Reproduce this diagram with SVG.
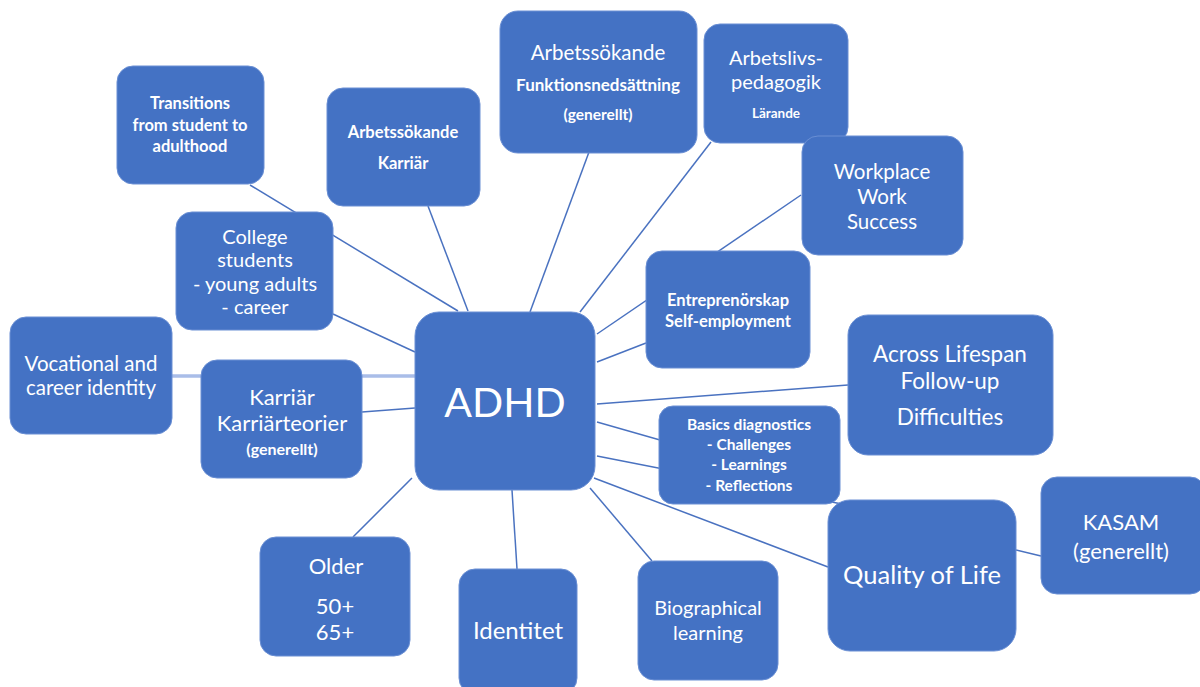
<svg xmlns="http://www.w3.org/2000/svg" width="1200" height="687" viewBox="0 0 1200 687">
  <style>
    .box { fill: #4472C4; stroke: #6a8fd4; stroke-width: 1; }
    .t { fill: #ffffff; font-family: Lato, "Open Sans", "Liberation Sans", sans-serif; text-anchor: middle; dominant-baseline: central; }
    .b { font-weight: bold; }
    .ln { stroke: #4a72c0; stroke-width: 1.5; fill: none; }
    .pale { stroke: #a9bde8; stroke-width: 3.5; fill: none; }
  </style>
  <rect width="1200" height="687" fill="#ffffff"/>

  <!-- connectors -->
  <g id="connectors">
    <line class="pale" x1="172" y1="376" x2="415" y2="376"/>
    <line class="ln" x1="250" y1="185" x2="458" y2="311"/>
    <line class="ln" x1="333" y1="314" x2="415" y2="352"/>
    <line class="ln" x1="428" y1="206" x2="468" y2="311"/>
    <line class="ln" x1="589" y1="152" x2="530" y2="312"/>
    <line class="ln" x1="711" y1="142" x2="580" y2="312"/>
    <line class="ln" x1="801" y1="195" x2="597" y2="334"/>
    <line class="ln" x1="646" y1="343" x2="597" y2="362"/>
    <line class="ln" x1="848" y1="385" x2="597" y2="404"/>
    <line class="ln" x1="597" y1="422" x2="660" y2="440"/>
    <line class="ln" x1="597" y1="456" x2="852" y2="506"/>
    <line class="ln" x1="594" y1="478" x2="828" y2="567"/>
    <line class="ln" x1="1016" y1="550" x2="1041" y2="556"/>
    <line class="ln" x1="590" y1="488" x2="652" y2="561"/>
    <line class="ln" x1="512" y1="490" x2="517" y2="569"/>
    <line class="ln" x1="412" y1="478" x2="353" y2="537"/>
    <line class="ln" x1="362" y1="412" x2="415" y2="408"/>
  </g>

  <g id="n-transitions">
    <rect class="box" x="117" y="66" width="147" height="118" rx="16"/>
    <text class="t b" font-size="16.5"><tspan x="190" y="103">Transitions</tspan><tspan x="190" y="125">from student to</tspan><tspan x="190" y="146">adulthood</tspan></text>
  </g>

  <g id="n-arbets-karriar">
    <rect class="box" x="327" y="88" width="153" height="118" rx="16"/>
    <text class="t b" font-size="16.5"><tspan x="403" y="132">Arbetssökande</tspan><tspan x="403" y="163">Karriär</tspan></text>
  </g>

  <g id="n-arbets-funktion">
    <rect class="box" x="500" y="11" width="197" height="142" rx="18"/>
    <text class="t" font-size="20.5" x="598" y="52">Arbetssökande</text>
    <text class="t b" font-size="17" x="598" y="84">Funktionsnedsättning</text>
    <text class="t b" font-size="15.5" x="598" y="114">(generellt)</text>
  </g>

  <g id="n-pedagogik">
    <rect class="box" x="704" y="24" width="144" height="119" rx="16"/>
    <text class="t" font-size="20"><tspan x="776" y="57">Arbetslivs-</tspan><tspan x="776" y="81">pedagogik</tspan></text>
    <text class="t b" font-size="13.5" x="776" y="113">Lärande</text>
  </g>

  <g id="n-workplace">
    <rect class="box" x="802" y="136" width="161" height="119" rx="16"/>
    <text class="t" font-size="20.5"><tspan x="882" y="171">Workplace</tspan><tspan x="882" y="196">Work</tspan><tspan x="882" y="221">Success</tspan></text>
  </g>

  <g id="n-college">
    <rect class="box" x="176" y="212" width="157" height="118" rx="16"/>
    <text class="t" font-size="20"><tspan x="255" y="236">College</tspan><tspan x="255" y="259">students</tspan><tspan x="255" y="283">- young adults</tspan><tspan x="255" y="306">- career</tspan></text>
  </g>

  <g id="n-entrepreneur">
    <rect class="box" x="646" y="251" width="164" height="117" rx="16"/>
    <text class="t b" font-size="16.5"><tspan x="728" y="300">Entreprenörskap</tspan><tspan x="728" y="321">Self-employment</tspan></text>
  </g>

  <g id="n-vocational">
    <rect class="box" x="10" y="317" width="162" height="117" rx="16"/>
    <text class="t" font-size="20.5"><tspan x="91" y="363">Vocational and</tspan><tspan x="91" y="387">career identity</tspan></text>
  </g>

  <g id="n-karriar">
    <rect class="box" x="201" y="360" width="161" height="118" rx="16"/>
    <text class="t" font-size="22"><tspan x="282" y="396">Karriär</tspan><tspan x="282" y="422">Karriärteorier</tspan></text>
    <text class="t b" font-size="16" x="282" y="448">(generellt)</text>
  </g>

  <g id="n-adhd">
    <rect class="box" x="415" y="312" width="180" height="178" rx="24"/>
    <text class="t" font-size="41" x="505" y="401">ADHD</text>
  </g>

  <g id="n-lifespan">
    <rect class="box" x="848" y="315" width="205" height="140" rx="20"/>
    <text class="t" font-size="22.5"><tspan x="950" y="353">Across Lifespan</tspan><tspan x="950" y="380">Follow-up</tspan><tspan x="950" y="416">Difficulties</tspan></text>
  </g>

  <g id="n-basics">
    <rect class="box" x="659" y="406" width="181" height="98" rx="14"/>
    <text class="t b" font-size="15.5"><tspan x="749" y="424">Basics diagnostics</tspan><tspan x="749" y="444">- Challenges</tspan><tspan x="749" y="464">- Learnings</tspan><tspan x="749" y="485">- Reflections</tspan></text>
  </g>

  <g id="n-kasam">
    <rect class="box" x="1041" y="477" width="165" height="117" rx="16"/>
    <text class="t" font-size="22"><tspan x="1121" y="521">KASAM</tspan><tspan x="1121" y="550">(generellt)</tspan></text>
  </g>

  <g id="n-quality">
    <rect class="box" x="828" y="500" width="188" height="151" rx="22"/>
    <text class="t" font-size="25.5" x="922" y="574">Quality of Life</text>
  </g>

  <g id="n-older">
    <rect class="box" x="260" y="537" width="150" height="119" rx="16"/>
    <text class="t" font-size="22" x="336" y="565">Older</text>
    <text class="t" font-size="22"><tspan x="335" y="605">50+</tspan><tspan x="335" y="631">65+</tspan></text>
  </g>

  <g id="n-identitet">
    <rect class="box" x="459" y="569" width="118" height="125" rx="16"/>
    <text class="t" font-size="24" x="518" y="629">Identitet</text>
  </g>

  <g id="n-biographical">
    <rect class="box" x="638" y="561" width="140" height="119" rx="16"/>
    <text class="t" font-size="20"><tspan x="708" y="607">Biographical</tspan><tspan x="708" y="632">learning</tspan></text>
  </g>
</svg>
